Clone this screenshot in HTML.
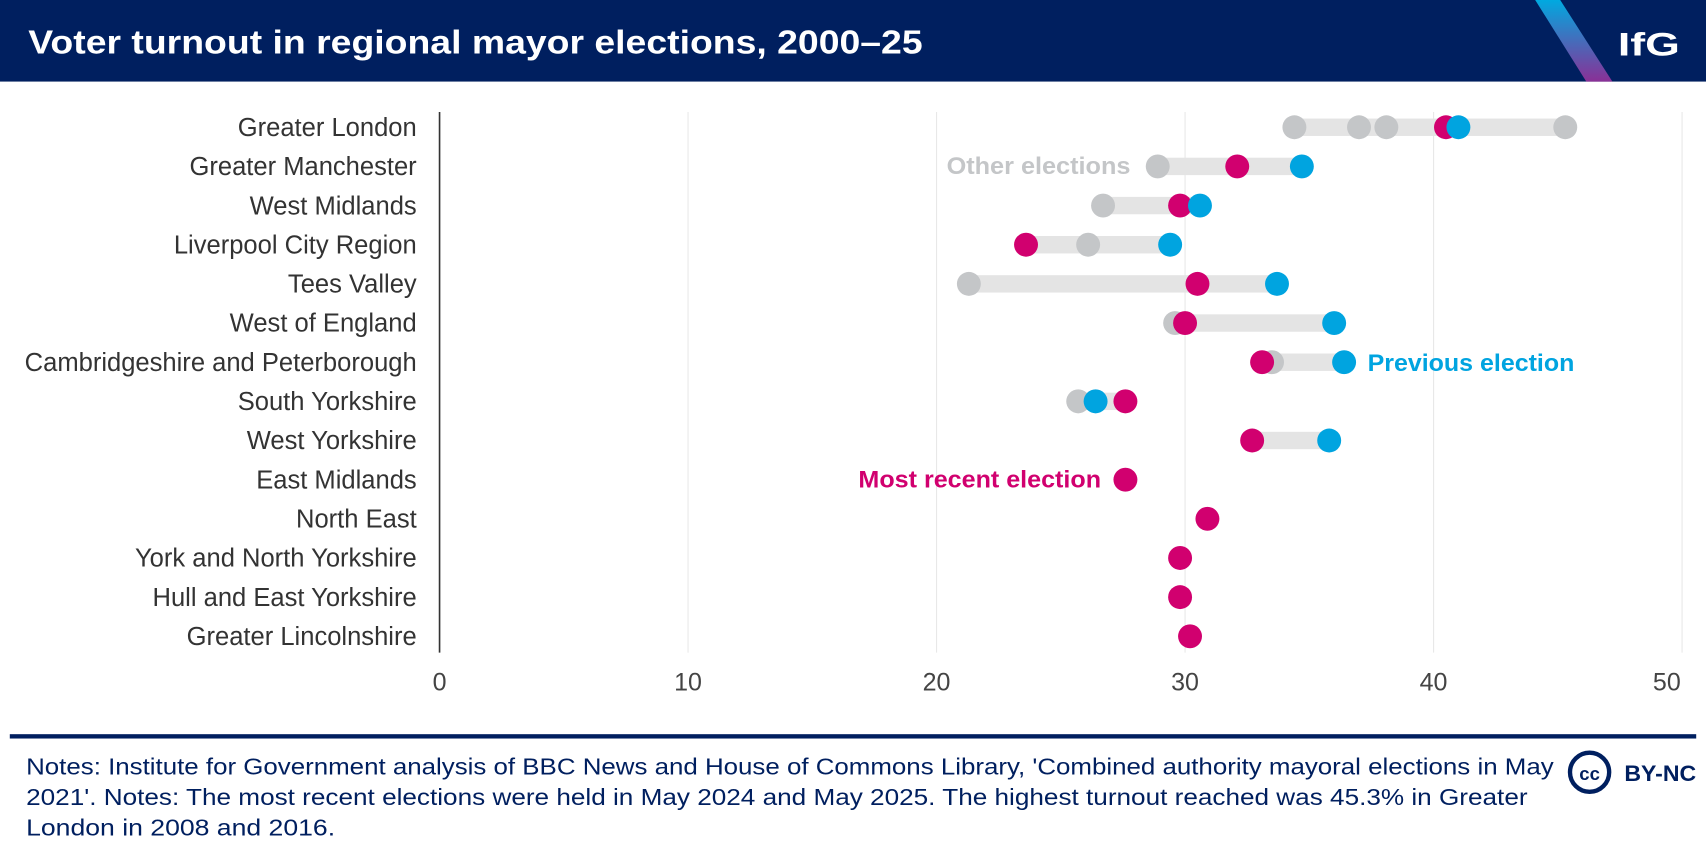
<!DOCTYPE html>
<html><head><meta charset="utf-8"><style>
html,body{margin:0;padding:0;background:#fff;}
svg{display:block;font-family:"Liberation Sans",sans-serif;}
</style></head><body>
<svg id="chart" width="1706" height="856" viewBox="0 0 1568 787" preserveAspectRatio="none">
<defs><linearGradient id="stripe" x1="0" y1="0" x2="0" y2="1"><stop offset="0" stop-color="#00a9e0"/><stop offset="1" stop-color="#8a3096"/></linearGradient></defs>
<rect x="0" y="0" width="1568" height="75" fill="#001f5f"/>
<text x="26" y="49" fill="#fff" font-size="31" font-weight="bold" textLength="822" lengthAdjust="spacingAndGlyphs">Voter turnout in regional mayor elections, 2000–25</text>
<polygon points="1411,0 1434,0 1482,75 1458,75" fill="url(#stripe)"/>
<text x="1487" y="51" fill="#fff" font-size="30" font-weight="bold" textLength="57" lengthAdjust="spacingAndGlyphs">IfG</text>
<g id="grid"></g>
<g id="marks"></g>
<g id="labels"></g>
<line x1="404" y1="103" x2="404" y2="600" stroke="#333" stroke-width="1.5"/>
<text x="1039" y="160" text-anchor="end" fill="#c4c6c8" font-size="22" font-weight="bold" textLength="169" lengthAdjust="spacingAndGlyphs">Other elections</text>
<text x="1257" y="341" fill="#00a4e0" font-size="22" font-weight="bold" textLength="190" lengthAdjust="spacingAndGlyphs">Previous election</text>
<text x="1012" y="448" text-anchor="end" fill="#d1006f" font-size="22" font-weight="bold" textLength="223" lengthAdjust="spacingAndGlyphs">Most recent election</text>
<rect x="9" y="675" width="1550" height="4" fill="#001f5f"/>
<g fill="#001f5f" font-size="21">
<text x="24" y="712" textLength="1404" lengthAdjust="spacingAndGlyphs">Notes: Institute for Government analysis of BBC News and House of Commons Library, 'Combined authority mayoral elections in May</text>
<text x="24" y="740" textLength="1380" lengthAdjust="spacingAndGlyphs">2021'. Notes: The most recent elections were held in May 2024 and May 2025. The highest turnout reached was 45.3% in Greater</text>
<text x="24" y="768" textLength="284" lengthAdjust="spacingAndGlyphs">London in 2008 and 2016.</text>
</g>
<g>
<circle cx="1461" cy="710" r="18" fill="none" stroke="#001f5f" stroke-width="4"/>
<text x="1461" y="717" text-anchor="middle" fill="#001f5f" font-size="17" font-weight="bold">cc</text>
<text x="1493" y="718" fill="#001f5f" font-size="20" font-weight="bold" textLength="66" lengthAdjust="spacingAndGlyphs">BY-NC</text>
</g>
</svg>
<script>
const regions=["Greater London","Greater Manchester","West Midlands","Liverpool City Region","Tees Valley","West of England","Cambridgeshire and Peterborough","South Yorkshire","West Yorkshire","East Midlands","North East","York and North Yorkshire","Hull and East Yorkshire","Greater Lincolnshire"];
const otherElections=[[34.4,37.0,38.1,45.3],[28.9],[26.7],[26.1],[21.3],[29.6],[33.5],[25.7],[],[],[],[],[],[]];
const previousElection=[41.0,34.7,30.6,29.4,33.7,36.0,36.4,26.4,35.8,null,null,null,null,null];
const mostRecent=[40.5,32.1,29.8,23.6,30.5,30.0,33.1,27.6,32.7,27.6,30.9,29.8,29.8,30.2];
const ticks=[0,10,20,30,40,50];
const NS="http://www.w3.org/2000/svg";
const x=v=>404+v*22.84;
const y=i=>117+i*36;
function mk(tag,attrs,parent){const e=document.createElementNS(NS,tag);for(const k in attrs)e.setAttribute(k,attrs[k]);parent.appendChild(e);return e;}
const grid=document.getElementById('grid'),marks=document.getElementById('marks'),labels=document.getElementById('labels');
ticks.forEach(t=>{
 if(t>0){const g=mk('line',{x1:x(t),x2:x(t),y1:103,y2:600,stroke:'#e8e8e8','stroke-width':1},grid);
 
 }
 const tl=mk('text',{x:t===50?x(t)-14:x(t),y:635,'text-anchor':'middle','font-size':23,fill:'#444'},grid);
 tl.textContent=t;
 
 
});
regions.forEach((r,i)=>{
 const lab=mk('text',{x:383,y:y(i)+8,'text-anchor':'end','font-size':23.5,fill:'#333'},labels);
 lab.textContent=r;
 
 
 const vals=[...otherElections[i],mostRecent[i]];
 if(previousElection[i]!=null)vals.push(previousElection[i]);
 const lo=Math.min(...vals),hi=Math.max(...vals);
 if(hi>lo){const b=mk('rect',{x:x(lo),y:y(i)-8,width:x(hi)-x(lo),height:16,fill:'#e4e4e4'},marks);
 
 }
 otherElections[i].forEach(v=>{const c=mk('circle',{cx:x(v),cy:y(i),r:11,fill:'#c4c6c8'},marks);
 
 });
 const m=mk('circle',{cx:x(mostRecent[i]),cy:y(i),r:11,fill:'#d1006f'},marks);
 
 
 if(previousElection[i]!=null){const p=mk('circle',{cx:x(previousElection[i]),cy:y(i),r:11,fill:'#00a4e0'},marks);
 
 }
});
</script>
</body></html>
